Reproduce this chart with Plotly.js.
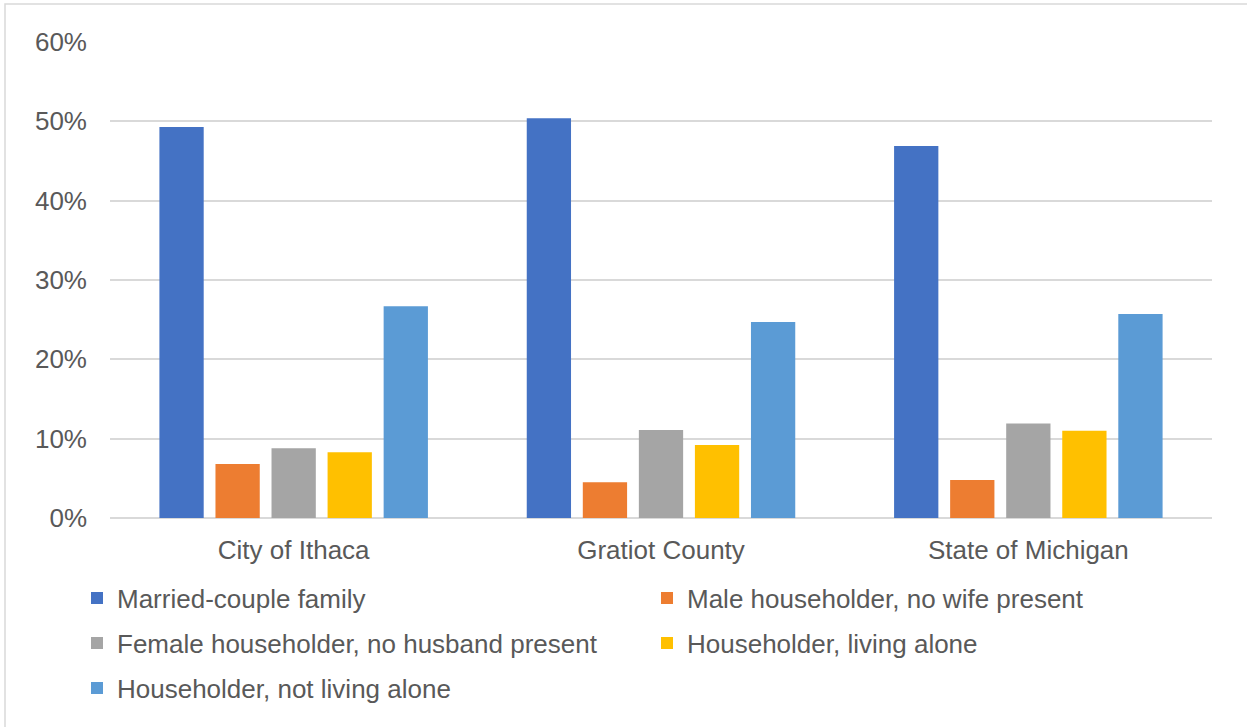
<!DOCTYPE html>
<html>
<head>
<meta charset="utf-8">
<script src="https://cdn.plot.ly/plotly-3.0.1.min.js"></script>
<style>html,body{margin:0;padding:0;background:#fff;}#chart{width:1247px;height:727px;}</style>
</head>
<body>
<div id="chart"></div>
<script>
const categories = ["City of Ithaca", "Gratiot County", "State of Michigan"];
const seriesNames = [
  "Married-couple family",
  "Male householder, no wife present",
  "Female householder, no husband present",
  "Householder, living alone",
  "Householder, not living alone"
];
const marriedCouple = [0.493, 0.504, 0.469];
const maleNoWife = [0.068, 0.045, 0.048];
const femaleNoHusband = [0.088, 0.111, 0.119];
const livingAlone = [0.083, 0.092, 0.110];
const notLivingAlone = [0.267, 0.247, 0.257];
const seriesValues = [marriedCouple, maleNoWife, femaleNoHusband, livingAlone, notLivingAlone];
const colors = ["#4472C4", "#ED7D31", "#A5A5A5", "#FFC000", "#5B9BD5"];
const legendRows = ["legend", "legend", "legend2", "legend2", "legend3"];
const yTickVals = [0, 0.1, 0.2, 0.3, 0.4, 0.5, 0.6];
const yTickText = ["0%", "10%", "20%", "30%", "40%", "50%", "60%"];

const font = "Liberation Sans, Arial, sans-serif";
const textColor = "#595959";
const fsize = 26;

const traces = seriesNames.map((name, i) => ({
  type: "bar",
  name: name,
  x: categories,
  y: seriesValues[i],
  legend: legendRows[i],
  marker: {color: colors[i], line: {width: 0}},
  hoverinfo: "name+y"
}));

function legendRow(yCenterPx, xLeftPx) {
  return {
    orientation: "h",
    x: (xLeftPx - 110) / 1102,
    xanchor: "left",
    y: (518 - yCenterPx) / 476,
    yanchor: "middle",
    entrywidth: 525,
    entrywidthmode: "pixels",
    font: {family: font, color: textColor, size: 26},
    traceorder: "normal",
    bgcolor: "rgba(0,0,0,0)",
    borderwidth: 0
  };
}

const layout = {
  width: 1247,
  height: 727,
  margin: {l: 110, r: 35, t: 42, b: 209},
  paper_bgcolor: "#ffffff",
  plot_bgcolor: "#ffffff",
  barmode: "group",
  bargap: 0.237,
  bargroupgap: 0.21,
  font: {family: font, color: textColor, size: fsize},
  xaxis: {
    tickfont: {family: font, color: textColor, size: fsize},
    showgrid: false,
    showline: false,
    ticks: "",
    ticklabelstandoff: 14
  },
  yaxis: {
    range: [0, 0.6],
    tickvals: yTickVals,
    ticktext: yTickText,
    tickfont: {family: font, color: textColor, size: fsize},
    showgrid: true,
    gridcolor: "#d9d9d9",
    gridwidth: 2,
    zeroline: true,
    zerolinecolor: "#d9d9d9",
    zerolinewidth: 2,
    showline: false,
    ticks: "",
    ticklabelstandoff: 22
  },
  showlegend: true,
  legend: legendRow(598, 77),
  legend2: legendRow(643, 77),
  legend3: legendRow(688, 77),
  shapes: [{
    type: "rect",
    xref: "paper", yref: "paper",
    x0: (5 - 110) / 1102, x1: (1260 - 110) / 1102,
    y0: (518 - 740) / 476, y1: (518 - 4) / 476,
    line: {color: "#d9d9d9", width: 1.5},
    fillcolor: "rgba(0,0,0,0)"
  }]
};

Plotly.newPlot("chart", traces, layout, {displayModeBar: false, staticPlot: true});
</script>
</body>
</html>
